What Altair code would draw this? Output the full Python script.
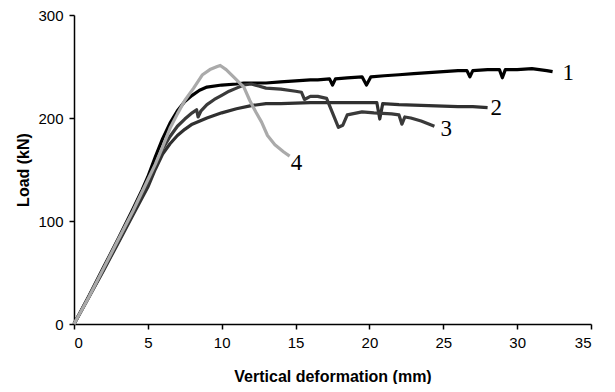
import altair as alt
import pandas as pd

# Curve 1 (black)
x1 = [0, 1, 2, 3, 4, 4.6, 5, 5.5, 6, 6.5, 7, 7.5, 8, 8.5, 9, 10, 11, 11.5, 12, 13, 14, 15, 16, 16.5, 17.3, 17.5, 17.7,
      18.5, 19.5, 19.8, 20.1, 21, 22, 23, 24, 25, 26, 26.6, 26.8, 27.0, 28, 28.8, 29.0, 29.2, 30, 31, 32, 32.4]
y1 = [0, 27, 55, 83, 112, 130, 143, 162, 180, 195, 207, 216, 222, 227, 230, 232, 233, 234, 234, 234, 235, 236, 237, 237, 238, 232, 238,
      239, 240, 232, 240, 241, 242, 243, 244, 245, 246, 246, 240, 246, 247, 247, 239, 247, 247, 248, 246, 245]

# Curve 2 (dark grey)
x2 = [0, 1, 2, 3, 4, 5, 5.5, 6, 6.5, 7, 7.5, 8, 9, 10, 11, 12, 13, 14, 16, 18, 20, 20.5, 20.7, 20.9, 22, 24, 26, 27, 28.0]
y2 = [0, 26, 52, 79, 106, 133, 150, 165, 175, 183, 189, 194, 200, 205, 209, 212, 214, 214, 215, 215, 215, 215, 199, 214, 213, 212, 211, 211, 210]

# Curve 3 (dark grey)
x3 = [0, 1, 2, 3, 4, 5, 5.5, 6, 6.5, 7, 7.5, 8, 8.3, 8.4, 8.6, 9, 9.5, 10, 10.5, 11, 11.5, 12, 12.5, 13, 14, 15, 15.4,
      15.6, 16, 16.5, 17.1, 17.5, 17.9, 18.2, 18.5, 19.5, 20.3, 21.5, 22.0, 22.2, 22.4, 22.8, 23.5, 24.4]
y3 = [0, 26, 53, 80, 108, 137, 153, 170, 182, 192, 199, 205, 208, 201, 207, 213, 218, 222, 226, 229, 232, 233, 231, 229, 228, 226, 225,
      218, 221, 221, 219, 205, 191, 193, 203, 206, 205, 204, 203, 194, 201, 200, 197, 192]

# Curve 4 (light grey)
x4 = [0, 1, 2, 3, 4, 5, 5.5, 6, 6.5, 7, 7.5, 8.1, 8.7, 9.2, 9.7, 9.9, 10.3, 10.8, 11.5, 11.9, 12.3, 12.7, 13.1, 13.6, 14.2, 14.6]
y4 = [0, 26, 54, 82, 110, 140, 155, 172, 190, 204, 217, 229, 242, 247, 250, 251, 247, 240, 230, 217, 206, 196, 183, 174, 167, 163]

names = ["1", "2", "3", "4"]
colors = ["#000000", "#303030", "#3a3a3a", "#aaaaaa"]
label_offsets = [(10, 1), (3, 0), (6, 3), (1, 7)]

series = [(x1, y1), (x2, y2), (x3, y3), (x4, y4)]

xscale = alt.Scale(domain=[0, 35], nice=False)
yscale = alt.Scale(domain=[0, 300], nice=False)

layers = []
for i, ((xs, ys), name, col) in enumerate(zip(series, names, colors)):
    df = pd.DataFrame({"x": xs, "load": ys, "idx": range(len(xs))})
    line = alt.Chart(df).mark_line(color=col, strokeWidth=3.2, strokeJoin="round").encode(
        x=alt.X("x:Q", scale=xscale,
                axis=alt.Axis(title="Vertical deformation (mm)", values=[0, 5, 10, 15, 20, 25, 30, 35])),
        y=alt.Y("load:Q", scale=yscale,
                axis=alt.Axis(title="Load (kN)", values=[0, 100, 200, 300])),
        order="idx:Q",
    )
    layers.append(line)

for (xs, ys), name, (dx, dy) in zip(series, names, label_offsets):
    ldf = pd.DataFrame({"x": [xs[-1]], "load": [ys[-1]], "t": [name]})
    txt = alt.Chart(ldf).mark_text(
        align="left", baseline="middle", font="Liberation Serif", fontSize=23, color="#000000", dx=dx, dy=dy
    ).encode(x=alt.X("x:Q", scale=xscale), y=alt.Y("load:Q", scale=yscale), text="t:N")
    layers.append(txt)

chart = alt.layer(*layers).properties(
    width=517, height=309,
    autosize=alt.AutoSizeParams(type="none"),
    padding={"left": 66, "top": 7, "right": 16, "bottom": 60},
).configure_view(stroke=None).configure_axis(
    grid=False,
    domainColor="#000000",
    domainWidth=1.5,
    tickColor="#000000",
    tickWidth=1.5,
    tickSize=5,
    labelFont="Liberation Sans",
    labelFontSize=15,
    labelColor="#000000",
    labelPadding=6,
    titleFont="Liberation Sans",
    titleFontSize=16,
    titleFontWeight="bold",
    titleColor="#000000",
).configure_axisX(titlePadding=18).configure_axisY(titlePadding=6)

chart.save("out.html", embed_options={"renderer": "svg", "actions": False})
